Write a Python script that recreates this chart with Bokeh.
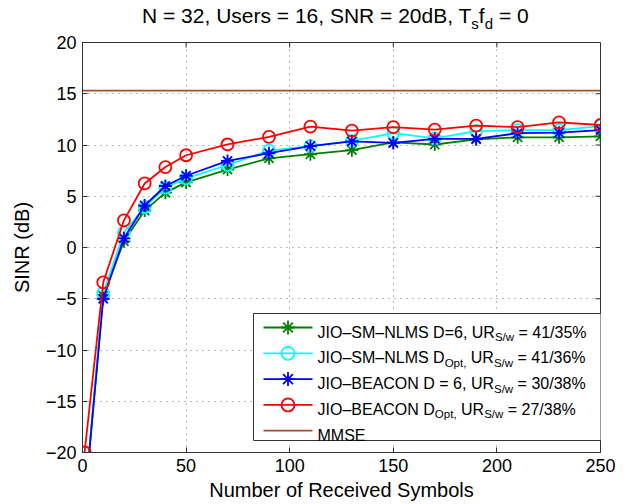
import math
from bokeh.plotting import figure
from bokeh.layouts import column
from bokeh.models import Label, BoxAnnotation, FixedTicker, Range1d, Div
from bokeh.embed import file_html
from bokeh.resources import INLINE

# ---- data -----------------------------------------------------------------
symbols = [1, 10, 20, 30, 40, 50, 70, 90, 110, 130, 150, 170, 190, 210, 230, 250]
sm_nlms_d6 = [-25.0, -4.7, 0.6, 3.6, 5.35, 6.35, 7.6, 8.7, 9.1, 9.5, 10.25, 10.05,
              10.55, 10.75, 10.75, 10.85]
sm_nlms_dopt = [-25.0, -4.45, 1.45, 3.95, 5.85, 6.75, 8.05, 9.45, 9.9, 10.4, 11.15,
                10.65, 11.35, 11.45, 11.45, 11.85]
beacon_d6 = [-25.0, -5.0, 0.9, 4.1, 6.0, 7.0, 8.45, 9.2, 9.9, 10.35, 10.2, 10.6,
             10.6, 11.15, 11.2, 11.45]
beacon_dopt = [-20.0, -3.4, 2.65, 6.25, 7.85, 9.0, 10.05, 10.8, 11.8, 11.4, 11.75,
               11.5, 11.9, 11.75, 12.2, 11.95]
mmse_x = [0, 250]
mmse_sinr = [15.3, 15.3]

x_ticks = [0, 50, 100, 150, 200, 250]
y_ticks = [-20, -15, -10, -5, 0, 5, 10, 15, 20]
X_MIN, X_MAX, Y_MIN, Y_MAX = 0, 250, -20, 20

# ---- layout ---------------------------------------------------------------
W, H = 632, 504
TITLE_H = 31                           # height of the title strip
FL, FR, FT, FB = 82, 600, 42, 452      # frame edges in page pixels
FONT = "Liberation Sans"
AXIS_COL = "#333333"

# Arial / Liberation Sans advance widths (1/1000 em) for laying out rich text
ADV = {" ": 278, "%": 889, "'": 191, "(": 333, ")": 333, ",": 278, "-": 333,
       ".": 278, "/": 278, "=": 584, "\u2013": 556, "\u2212": 584,
       "A": 667, "B": 667, "C": 722, "D": 722, "E": 667, "F": 611, "I": 278,
       "J": 500, "L": 556, "M": 833, "N": 722, "O": 778, "R": 722, "S": 667,
       "T": 611, "U": 722, "a": 556, "b": 556, "c": 500, "d": 556, "e": 556,
       "f": 278, "i": 222, "l": 222, "m": 833, "o": 556, "p": 556, "r": 333,
       "s": 500, "t": 278, "u": 556, "v": 500, "w": 722, "y": 500}
for ch in "0123456789":
    ADV[ch] = 556


def text_width(s, size):
    return sum(ADV.get(c, 556) for c in s) * size / 1000.0


# ---- title strip ----------------------------------------------------------
sub = '<span style="font-size:15px;position:relative;top:6px;">{}</span>'
title_html = ("N = 32, Users = 16, SNR = 20dB, T" + sub.format("s") + "f"
              + sub.format("d") + " = 0")
title = Div(text=title_html, width=W, height=TITLE_H, margin=(0, 0, 0, 0),
            styles={"font-family": FONT, "font-size": "21px", "color": "black",
                    "padding-left": "142px", "padding-top": "5px",
                    "line-height": "21px", "white-space": "nowrap"})

# ---- main plot ------------------------------------------------------------
p = figure(width=W, height=H - TITLE_H, x_range=Range1d(X_MIN, X_MAX),
           y_range=Range1d(Y_MIN, Y_MAX), output_backend="svg",
           toolbar_location=None, min_border_left=FL, min_border_right=W - FR,
           min_border_top=FT - TITLE_H, min_border_bottom=H - FB)
p.outline_line_color = AXIS_COL
p.outline_line_width = 1


def page_to_data(X, Y):
    return (X_MIN + (X - FL) / (FR - FL) * (X_MAX - X_MIN),
            Y_MAX - (Y - FT) / (FB - FT) * (Y_MAX - Y_MIN))


def rich_text(parts, x0, y0, size, sub_size, sub_drop):
    """Lay out normal/subscript pieces from page point (x0, baseline y0)."""
    x = x0
    for txt, is_sub in parts:
        fs = sub_size if is_sub else size
        lead = len(txt) - len(txt.lstrip(" "))
        trail = len(txt) - len(txt.rstrip(" "))
        body = txt.strip(" ")
        x += text_width(" " * lead, fs)
        y = y0 + (sub_drop if is_sub else 0)
        p.add_layout(Label(x=x - FL, y=FB - y, x_units="screen", y_units="screen",
                           text=body, text_font=FONT, text_font_size=f"{fs}px",
                           text_color="black", text_baseline="alphabetic",
                           text_align="left"))
        x += text_width(body, fs) + text_width(" " * trail, fs)


for ax in (p.xaxis[0], p.yaxis[0]):
    ax.major_tick_in = 5
    ax.major_tick_out = 0
    ax.minor_tick_line_color = None
    ax.axis_line_color = AXIS_COL
    ax.major_tick_line_color = AXIS_COL
    ax.major_label_text_font = FONT
    ax.major_label_text_font_size = "18px"
    ax.major_label_text_color = "black"
    ax.axis_label_text_font = FONT
    ax.axis_label_text_font_size = "20px"
    ax.axis_label_text_font_style = "normal"
    ax.axis_label_text_color = "black"
    ax.major_label_standoff = 6

p.xaxis.ticker = FixedTicker(ticks=x_ticks)
p.yaxis.ticker = FixedTicker(ticks=y_ticks)
p.yaxis.major_label_overrides = {t: (f"\u2212{abs(t)}" if t < 0 else str(t)) for t in y_ticks}
p.xaxis.axis_label = "Number of Received Symbols"
p.yaxis.axis_label = "SINR (dB)"
p.xaxis.axis_label_standoff = 4
p.yaxis.axis_label_standoff = 10

p.xgrid.ticker = FixedTicker(ticks=x_ticks)
p.ygrid.ticker = FixedTicker(ticks=y_ticks)
for g in (p.xgrid[0], p.ygrid[0]):
    g.grid_line_color = "#7a7a7a"
    g.grid_line_dash = "1 5"
    g.grid_line_width = 1

# inward tick marks on the top and right edges (outer halves are clipped)
p.scatter(x_ticks, [Y_MAX] * len(x_ticks), marker="dash", angle=math.pi / 2,
          size=10, line_color=AXIS_COL, line_width=1)
p.scatter([X_MAX] * len(y_ticks), y_ticks, marker="dash", size=10,
          line_color=AXIS_COL, line_width=1)

# ---- series ---------------------------------------------------------------
LW = 1.8
series = [
    (sm_nlms_d6, "#008000", "asterisk", 13),
    (sm_nlms_dopt, "#00ffff", "circle", 12),
    (beacon_d6, "#0000ff", "asterisk", 13),
    (beacon_dopt, "#ff0000", "circle", 12),
]
for ys, col, mk, sz in series:
    p.line(symbols, ys, line_color=col, line_width=LW)
    p.scatter(symbols, ys, marker=mk, size=sz, line_color=col, fill_color=None,
              line_width=LW)
MMSE_COL = "#a0522d"
p.line(mmse_x, mmse_sinr, line_color=MMSE_COL, line_width=LW)

# ---- legend ---------------------------------------------------------------
LEG_L, LEG_R, LEG_T, LEG_B = 253, 601, 313, 440
p.add_layout(BoxAnnotation(left=LEG_L - FL, right=LEG_R - FL,
                           top=FB - LEG_T, bottom=FB - LEG_B,
                           left_units="screen", right_units="screen",
                           top_units="screen", bottom_units="screen",
                           fill_color="white", fill_alpha=1.0,
                           line_color=AXIS_COL, line_width=1, line_alpha=1.0))

ROW0_Y, PITCH = 327, 25.8
SAMPLE_X0, SAMPLE_X1 = 263, 312
legend_keys = [(col, mk, sz) for _, col, mk, sz in series] + [(MMSE_COL, None, 0)]
for i, (col, mk, sz) in enumerate(legend_keys):
    yc = ROW0_Y + i * PITCH
    (x0, y0), (x1, _) = page_to_data(SAMPLE_X0, yc), page_to_data(SAMPLE_X1, yc)
    p.line([x0, x1], [y0, y0], line_color=col, line_width=LW, level="overlay")
    if mk:
        p.scatter([(x0 + x1) / 2], [y0], marker=mk, size=sz + 1, line_color=col,
                  fill_color=None, line_width=LW, level="overlay")

legend_texts = [
    [("JIO\u2013SM\u2013NLMS D=6, UR", False), ("S/w", True), (" = 41/35%", False)],
    [("JIO\u2013SM\u2013NLMS D", False), ("Opt,", True), (" UR", False), ("S/w", True),
     (" = 41/36%", False)],
    [("JIO\u2013BEACON D = 6, UR", False), ("S/w", True), (" = 30/38%", False)],
    [("JIO\u2013BEACON D", False), ("Opt,", True), (" UR", False), ("S/w", True),
     (" = 27/38%", False)],
    [("MMSE", False)],
]
for i, parts in enumerate(legend_texts):
    rich_text(parts, 317, ROW0_Y + i * PITCH + 4.5, 16, 11.5, 5)

open("out.html", "w").write(file_html(column(title, p, spacing=0), INLINE))
